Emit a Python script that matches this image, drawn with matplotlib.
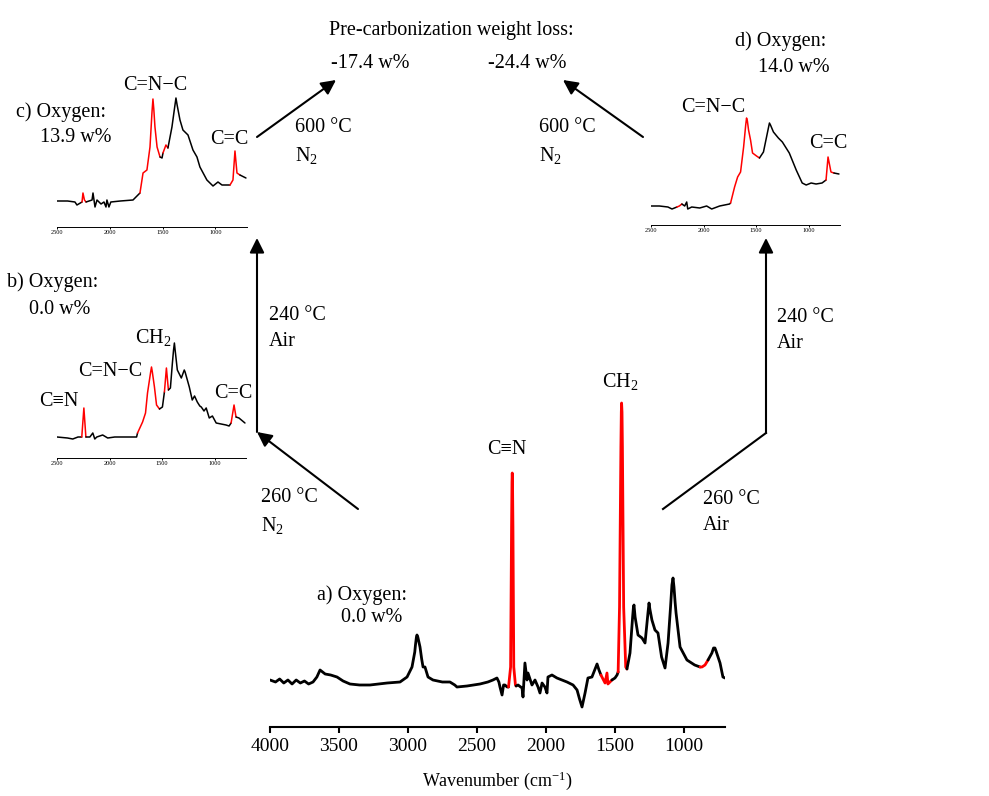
import matplotlib
matplotlib.use('Agg')
from matplotlib import pyplot as plt

plt.rcParams['font.family'] = ['Liberation Serif', 'DejaVu Serif']
plt.rcParams['mathtext.fontset'] = 'custom'
plt.rcParams['mathtext.rm'] = 'Liberation Serif'
plt.rcParams['mathtext.it'] = 'Liberation Serif:italic'

W, H = 989, 796

# a) pristine fibre, main spectrum (wavenumber, relative intensity)
a_wn = [4000, 3960, 3930, 3900, 3870, 3840, 3810, 3780, 3750, 3720, 3688, 3660,
        3637, 3600, 3560, 3514, 3470, 3420, 3350, 3275, 3150, 3057, 3006, 2970,
        2950, 2945, 2938, 2934, 2928, 2920, 2912, 2900, 2890, 2876, 2865, 2854,
        2818, 2750, 2695, 2660, 2644, 2571, 2477, 2420, 2383, 2354, 2340, 2332,
        2317, 2306, 2296, 2280, 2270, 2255, 2248, 2245, 2243, 2241, 2238, 2232,
        2220, 2215, 2201, 2172, 2165, 2151, 2136, 2129, 2100, 2078, 2056, 2042,
        2027, 2006, 1991, 1984, 1955, 1919, 1846, 1802, 1773, 1755, 1737, 1715,
        1694, 1665, 1628, 1614, 1600, 1570, 1556, 1549, 1520, 1498, 1483, 1475,
        1465, 1455, 1452, 1450, 1447, 1444, 1435, 1420, 1411, 1389, 1370, 1364,
        1360, 1352, 1331, 1302, 1280, 1258, 1251, 1245, 1230, 1208, 1186, 1160,
        1135, 1113, 1095, 1085, 1077, 1070, 1062, 1055, 1026, 976, 920, 881,
        867, 845, 823, 795, 783, 773, 765, 736, 715, 700]
a_int = [47, 45, 48, 44, 47, 43, 47, 44, 46, 43, 45, 50,
         57, 53, 52, 50, 46, 43, 42, 42, 44, 45, 50, 60,
         75, 82, 90, 92, 90, 85, 80, 68, 60, 60, 55, 50,
         47, 45, 45, 42, 40, 41, 43, 45, 47, 49, 45, 40,
         32, 42, 42, 40, 40, 60, 200, 245, 254, 245, 200, 60,
         42, 41, 42, 39, 30, 64, 47, 54, 42, 47, 40, 34,
         44, 40, 34, 50, 52, 49, 45, 42, 37, 28, 20, 34,
         49, 50, 63, 57, 52, 44, 54, 43, 47, 49, 52, 55,
         120, 280, 315, 324, 315, 280, 120, 60, 58, 74, 110, 120,
         122, 110, 92, 89, 84, 115, 124, 118, 107, 97, 94, 70,
         59, 84, 120, 142, 149, 140, 125, 114, 80, 67, 62, 60,
         60, 62, 67, 74, 79, 79, 76, 64, 50, 49]
a_red = [(2270, 2215), (1600, 1520), (1475, 1411), (881, 823)]

# b) 260 C in N2
b_wn = [2500, 2400, 2350, 2300, 2264, 2244, 2225, 2187, 2159, 2140, 2121, 2065,
        2017, 1950, 1875, 1742, 1733, 1685, 1657, 1638, 1608, 1600, 1592, 1572,
        1552, 1524, 1496, 1477, 1458, 1439, 1420, 1401, 1390, 1382, 1375, 1354,
        1316, 1295, 1288, 1280, 1240, 1212, 1190, 1164, 1140, 1126, 1100, 1079,
        1050, 1020, 984, 890, 861, 842, 814, 795, 767, 710]
b_int = [21, 20, 19, 21, 21, 50, 21, 21, 25, 19, 21, 23,
         20, 21, 21, 21, 25, 36, 45, 65, 86, 91, 86, 71,
         53, 49, 51, 66, 90, 68, 70, 95, 108, 115, 108, 88,
         80, 86, 88, 86, 71, 58, 62, 56, 52, 51, 47, 50,
         40, 42, 35, 33, 32, 35, 53, 41, 40, 35]
b_red = [(2264, 2225), (1733, 1524), (1477, 1439), (842, 795)]

# c) b then 240 C in air
c_wn = [2500, 2400, 2330, 2311, 2263, 2254, 2240, 2225, 2168, 2159, 2140, 2121,
        2083, 2055, 2036, 2027, 2008, 1990, 1900, 1780, 1733, 1714, 1685, 1648,
        1619, 1600, 1591, 1583, 1572, 1552, 1524, 1505, 1496, 1468, 1449, 1411,
        1385, 1373, 1362, 1335, 1307, 1259, 1212, 1174, 1146, 1080, 1022, 975,
        937, 861, 833, 814, 795, 767, 710]
c_int = [26, 26, 25, 22, 25, 34, 27, 25, 27, 34, 20, 27,
         23, 25, 20, 27, 20, 25, 26, 27, 32, 34, 54, 57,
         80, 115, 128, 118, 100, 80, 70, 69, 74, 82, 79, 100,
         120, 129, 122, 107, 97, 92, 77, 70, 60, 47, 41, 45,
         42, 42, 47, 76, 54, 52, 49]
c_red = [(2263, 2225), (1714, 1524), (1496, 1449), (861, 767)]

# d) 240 C in air directly
d_wn = [2500, 2420, 2339, 2300, 2253, 2230, 2206, 2179, 2160, 2150, 2112, 2036,
        1970, 1922, 1846, 1752, 1742, 1704, 1675, 1647, 1618, 1598, 1590, 1582,
        1571, 1552, 1533, 1495, 1467, 1429, 1380, 1372, 1362, 1334, 1287, 1249,
        1183, 1117, 1060, 1022, 975, 928, 871, 833, 814, 786, 758, 710]
d_int = [19, 19, 18, 16, 18, 19, 21, 19, 23, 16, 18, 17,
         19, 16, 19, 21, 22, 38, 48, 53, 78, 100, 107, 104,
         95, 85, 72, 69, 67, 73, 98, 102, 100, 93, 87, 83,
         72, 55, 42, 40, 42, 41, 42, 45, 68, 53, 52, 51]
d_red = [(2253, 2206), (1742, 1467), (833, 758)]

main_ticks = [4000, 3500, 3000, 2500, 2000, 1500, 1000]
inset_ticks = [2500, 2000, 1500, 1000]


def place(left, right, base, height):
    return [left / W, 1 - base / H, (right - left) / W, height / H]


def draw(ax, wn, y, red, lw):
    def is_red(p, q):
        return any(lo <= min(p, q) and max(p, q) <= hi for hi, lo in red)
    run = [0]
    col = is_red(wn[0], wn[1])
    for i in range(1, len(wn)):
        c = is_red(wn[i - 1], wn[i])
        if c != col:
            ax.plot([wn[j] for j in run], [y[j] for j in run],
                    color='red' if col else 'black', lw=lw,
                    solid_joinstyle='round', solid_capstyle='round')
            run = [i - 1]
            col = c
        run.append(i)
    ax.plot([wn[j] for j in run], [y[j] for j in run],
            color='red' if col else 'black', lw=lw,
            solid_joinstyle='round', solid_capstyle='round')


def style(ax, ticks, lw_spine, fs, tlen, pad):
    for s in ['top', 'left', 'right']:
        ax.spines[s].set_visible(False)
    ax.spines['bottom'].set_linewidth(lw_spine)
    ax.set_yticks([])
    ax.set_xticks(ticks)
    ax.tick_params(axis='x', labelsize=fs, length=tlen, width=lw_spine,
                   pad=pad, direction='out')
    ax.patch.set_alpha(0)


fig = plt.figure(figsize=(W / 100, H / 100), dpi=100)

ax = fig.add_axes(place(270, 725, 727, 340))
draw(ax, a_wn, a_int, a_red, 2.0)
ax.set_xlim(4000, 700)
ax.set_ylim(0, 340)
style(ax, main_ticks, 1.5, 14, 4, 4)
ax.set_xlabel('Wavenumber (cm$^{-1}$)', fontsize=13)
ax.xaxis.set_label_coords(0.499, -0.125)

for wn, y, red, box in [(b_wn, b_int, b_red, (57, 246, 458, 140)),
                        (c_wn, c_int, c_red, (57, 247, 227, 140)),
                        (d_wn, d_int, d_red, (651, 840, 225, 130))]:
    axi = fig.add_axes(place(*box))
    draw(axi, wn, y, red, 1.1)
    axi.set_xlim(2500, 700)
    axi.set_ylim(0, box[3])
    style(axi, inset_ticks, 0.7, 4.5, 1.5, 1)

# overlay in pixel coordinates for labels and arrows
ov = fig.add_axes([0, 0, 1, 1])
ov.set_xlim(0, W)
ov.set_ylim(H, 0)
ov.axis('off')
ov.patch.set_alpha(0)

fs = 14.5


def txt(x, y, s, ha='left', size=fs):
    ov.text(x, y, s, ha=ha, va='center', fontsize=size)


def arrow(x0, y0, x1, y1):
    ov.annotate('', xy=(x1, y1), xytext=(x0, y0),
                arrowprops=dict(arrowstyle='-|>', color='black', lw=1.5,
                                mutation_scale=22, shrinkA=0, shrinkB=0))


txt(451, 30, 'Pre-carbonization weight loss:', ha='center')
txt(370, 63, '-17.4 w%', ha='center')
txt(527, 63, '-24.4 w%', ha='center')
txt(295, 128, '600 °C')
txt(295, 155, 'N$_2$')
txt(539, 128, '600 °C')
txt(539, 155, 'N$_2$')

txt(16, 112, 'c) Oxygen:')
txt(40, 138, '13.9 w%')
txt(155, 85, 'C=N\u2212C', ha='center')
txt(229, 140, 'C=C', ha='center')

txt(735, 41, 'd) Oxygen:')
txt(758, 67, '14.0 w%')
txt(713, 107, 'C=N\u2212C', ha='center')
txt(828, 143, 'C=C', ha='center')

txt(7, 282, 'b) Oxygen:')
txt(29, 310, '0.0 w%')
txt(59, 402, 'C\u2261N', ha='center')
txt(110, 372, 'C=N\u2212C', ha='center')
txt(153, 337, 'CH$_2$', ha='center')
txt(233, 393, 'C=C', ha='center')

txt(269, 315, '240 °C')
txt(269, 342, 'Air')
txt(261, 498, '260 °C')
txt(261, 525, 'N$_2$')
txt(777, 317, '240 °C')
txt(777, 343, 'Air')
txt(703, 500, '260 °C')
txt(703, 525, 'Air')

txt(507, 449, 'C\u2261N', ha='center')
txt(620, 382, 'CH$_2$', ha='center')
txt(317, 595, 'a) Oxygen:')
txt(341, 617, '0.0 w%')

arrow(358, 509, 257, 432)
arrow(257, 432, 257, 238)
arrow(257, 137, 336, 80)
arrow(643, 137, 563, 80)
ov.plot([663, 766], [509, 433], color='black', lw=1.5)
arrow(766, 433, 766, 238)

fig.savefig('out.png', dpi=100, facecolor='white')
